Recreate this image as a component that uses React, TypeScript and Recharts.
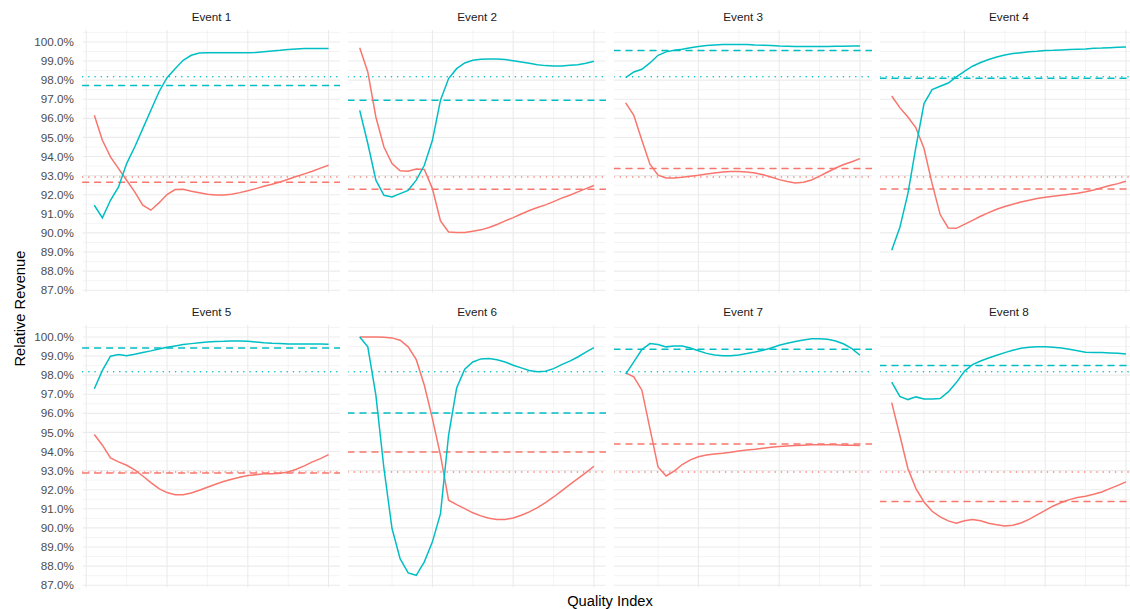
import React from "react";
import { LineChart, Line, XAxis, YAxis, CartesianGrid, ReferenceLine } from "recharts";

// ---------- data ----------
const QUALITY_INDEX = [1, 2, 3, 4, 5, 6, 7, 8, 9, 10, 11, 12, 13, 14, 15, 16, 17, 18, 19, 20, 21, 22, 23, 24, 25, 26, 27, 28, 29, 30];

const EVENT_NAMES = ["Event 1", "Event 2", "Event 3", "Event 4", "Event 5", "Event 6", "Event 7", "Event 8"];

const E1_RED = [96.16, 94.85, 93.98, 93.37, 92.76, 92.15, 91.45, 91.19, 91.57, 92.01, 92.27, 92.29, 92.18, 92.1, 92.02, 91.99, 91.99, 92.02, 92.11, 92.21, 92.32, 92.44, 92.55, 92.67, 92.81, 92.95, 93.09, 93.23, 93.39, 93.54];
const E1_CYAN = [91.45, 90.79, 91.71, 92.41, 93.63, 94.5, 95.46, 96.42, 97.38, 98.13, 98.6, 99.04, 99.3, 99.42, 99.44, 99.43, 99.43, 99.43, 99.43, 99.44, 99.45, 99.49, 99.53, 99.56, 99.6, 99.63, 99.65, 99.65, 99.65, 99.65];

const E2_RED = [99.7, 98.43, 96.07, 94.5, 93.63, 93.25, 93.23, 93.35, 93.32, 92.32, 90.63, 90.05, 90.02, 90.02, 90.09, 90.16, 90.28, 90.44, 90.63, 90.8, 90.99, 91.17, 91.33, 91.47, 91.64, 91.82, 91.97, 92.15, 92.32, 92.48];
const E2_CYAN = [96.42, 94.68, 92.76, 91.97, 91.88, 92.06, 92.23, 92.76, 93.54, 94.85, 96.95, 98.08, 98.6, 98.9, 99.04, 99.09, 99.11, 99.11, 99.08, 99.02, 98.95, 98.88, 98.81, 98.76, 98.74, 98.74, 98.78, 98.81, 98.88, 98.99];

const E3_RED = [96.81, 96.16, 94.85, 93.6, 93.02, 92.88, 92.88, 92.91, 92.97, 93.02, 93.09, 93.14, 93.19, 93.21, 93.21, 93.19, 93.14, 93.05, 92.93, 92.79, 92.69, 92.62, 92.65, 92.77, 92.97, 93.19, 93.4, 93.58, 93.73, 93.89];
const E3_CYAN = [98.13, 98.43, 98.57, 98.9, 99.3, 99.48, 99.56, 99.62, 99.69, 99.76, 99.81, 99.84, 99.86, 99.86, 99.86, 99.86, 99.84, 99.83, 99.81, 99.79, 99.78, 99.76, 99.76, 99.76, 99.76, 99.76, 99.78, 99.78, 99.79, 99.79];

const E4_RED = [97.17, 96.56, 96.07, 95.5, 94.42, 92.58, 90.96, 90.26, 90.24, 90.45, 90.66, 90.87, 91.06, 91.24, 91.38, 91.5, 91.62, 91.71, 91.8, 91.87, 91.92, 91.97, 92.02, 92.08, 92.15, 92.25, 92.36, 92.48, 92.58, 92.71];
const E4_CYAN = [89.09, 90.28, 92.06, 94.5, 96.77, 97.5, 97.68, 97.85, 98.17, 98.46, 98.73, 98.92, 99.08, 99.21, 99.32, 99.39, 99.44, 99.48, 99.51, 99.55, 99.56, 99.58, 99.6, 99.62, 99.63, 99.67, 99.68, 99.7, 99.72, 99.74];

const E5_RED = [94.89, 94.33, 93.66, 93.46, 93.28, 93.04, 92.72, 92.37, 92.06, 91.85, 91.74, 91.74, 91.83, 91.97, 92.13, 92.29, 92.43, 92.55, 92.65, 92.74, 92.79, 92.83, 92.84, 92.86, 92.93, 93.07, 93.25, 93.46, 93.63, 93.84];
const E5_CYAN = [97.29, 98.25, 98.99, 99.08, 99.01, 99.09, 99.18, 99.27, 99.37, 99.46, 99.53, 99.6, 99.65, 99.7, 99.74, 99.76, 99.77, 99.79, 99.79, 99.77, 99.74, 99.7, 99.67, 99.65, 99.63, 99.63, 99.63, 99.63, 99.63, 99.62];

const E6_RED = [100.0, 100.0, 100.0, 99.99, 99.95, 99.83, 99.48, 98.81, 97.47, 95.72, 93.8, 91.45, 91.22, 91.01, 90.79, 90.63, 90.51, 90.44, 90.44, 90.52, 90.66, 90.84, 91.06, 91.33, 91.62, 91.94, 92.27, 92.58, 92.9, 93.23];
const E6_CYAN = [100.0, 99.48, 96.95, 93.11, 89.97, 88.39, 87.64, 87.52, 88.22, 89.27, 90.75, 94.85, 97.33, 98.31, 98.69, 98.85, 98.87, 98.81, 98.69, 98.52, 98.38, 98.24, 98.18, 98.2, 98.34, 98.55, 98.73, 98.95, 99.21, 99.44];

const E7_RED = [98.12, 97.91, 97.21, 95.2, 93.19, 92.72, 92.97, 93.32, 93.56, 93.73, 93.82, 93.87, 93.91, 93.96, 94.03, 94.08, 94.12, 94.17, 94.22, 94.26, 94.29, 94.31, 94.33, 94.35, 94.35, 94.35, 94.35, 94.33, 94.33, 94.31];
const E7_CYAN = [98.05, 98.69, 99.34, 99.65, 99.6, 99.48, 99.53, 99.53, 99.42, 99.28, 99.14, 99.06, 99.01, 99.01, 99.06, 99.13, 99.21, 99.3, 99.42, 99.56, 99.67, 99.76, 99.84, 99.9, 99.91, 99.88, 99.79, 99.63, 99.39, 99.04];

const E8_RED = [96.56, 94.85, 93.11, 92.06, 91.36, 90.87, 90.58, 90.37, 90.24, 90.37, 90.44, 90.37, 90.24, 90.16, 90.1, 90.14, 90.26, 90.45, 90.68, 90.92, 91.15, 91.33, 91.48, 91.59, 91.66, 91.76, 91.88, 92.06, 92.23, 92.41];
const E8_CYAN = [97.64, 96.89, 96.72, 96.86, 96.75, 96.75, 96.77, 97.12, 97.61, 98.2, 98.55, 98.74, 98.9, 99.04, 99.18, 99.3, 99.41, 99.46, 99.48, 99.49, 99.46, 99.42, 99.35, 99.28, 99.2, 99.18, 99.18, 99.16, 99.14, 99.11];

const RED_SERIES = [E1_RED, E2_RED, E3_RED, E4_RED, E5_RED, E6_RED, E7_RED, E8_RED];
const CYAN_SERIES = [E1_CYAN, E2_CYAN, E3_CYAN, E4_CYAN, E5_CYAN, E6_CYAN, E7_CYAN, E8_CYAN];

// per-event dashed reference levels
const DASHED_RED = [92.65, 92.29, 93.37, 92.3, 92.88, 93.98, 94.4, 91.38];
const DASHED_CYAN = [97.72, 96.95, 99.55, 98.1, 99.42, 96.02, 99.36, 98.5];
// global dotted reference levels
const DOTTED_RED = 92.93;
const DOTTED_CYAN = 98.18;

const Y_TICKS = [87, 88, 89, 90, 91, 92, 93, 94, 95, 96, 97, 98, 99, 100];
const Y_MINOR = [87.5, 88.5, 89.5, 90.5, 91.5, 92.5, 93.5, 94.5, 95.5, 96.5, 97.5, 98.5, 99.5, 100.5];
const X_MAJOR = [0, 10, 20, 30];
const X_MINOR = [5, 15, 25];

// ---------- layout / style ----------
const RED = "#F8766D";
const CYAN = "#00BFC4";
const GRID = "#EBEBEB";
const FONT = "'Liberation Sans', Arial, Helvetica, sans-serif";

const Y_DOMAIN: [number, number] = [86.875, 100.625];
const X_DOMAIN: [number, number] = [-0.45, 31.45];

const PANEL_W = 257.7;
const PANEL_H = 262.6;
const PAD_B = 12;
const COL_LEFT = [82.6, 348.3, 614.3, 880];
const ROW_TOP = [29.8, 324.8];
const STRIP_BASELINE = [20.8, 316.3];
const Y_AXIS_W = 82.6;

function Panel({ idx }: { idx: number }) {
  const col = idx % 4;
  const row = Math.floor(idx / 4);
  const showY = col === 0;
  const yw = showY ? Y_AXIS_W : 0;
  const data = QUALITY_INDEX.map((q, i) => ({ q, red: RED_SERIES[idx][i], cyan: CYAN_SERIES[idx][i] }));
  return (
    <div style={{ position: "absolute", left: COL_LEFT[col] - yw, top: ROW_TOP[row] }}>
      <LineChart width={PANEL_W + yw} height={PANEL_H + PAD_B} data={data} margin={{ top: 0, right: 0, bottom: PAD_B, left: 0 }}>
        <CartesianGrid horizontalValues={Y_MINOR} verticalValues={X_MINOR} stroke={GRID} strokeWidth={0.55} fill="none" />
        <CartesianGrid horizontalValues={Y_TICKS} verticalValues={X_MAJOR} stroke={GRID} strokeWidth={1.1} fill="none" />
        <XAxis type="number" dataKey="q" domain={X_DOMAIN} allowDataOverflow hide />
        <YAxis
          type="number"
          domain={Y_DOMAIN}
          ticks={Y_TICKS}
          interval={0}
          allowDataOverflow
          hide={!showY}
          width={yw}
          axisLine={false}
          tickLine={false}
          tickSize={0}
          tickMargin={8.6}
          tickFormatter={(v: number) => v.toFixed(1) + "%"}
          tick={{ fill: "#4D4D4D", fontSize: 11.7, fontFamily: FONT }}
        />
        <ReferenceLine y={DOTTED_CYAN} stroke={CYAN} strokeWidth={1.5} strokeDasharray="0.1 6.1" strokeLinecap="round" ifOverflow="visible" />
        <ReferenceLine y={DOTTED_RED} stroke={RED} strokeWidth={1.5} strokeDasharray="0.1 6.1" strokeLinecap="round" ifOverflow="visible" />
        <ReferenceLine y={DASHED_CYAN[idx]} stroke={CYAN} strokeWidth={1.5} strokeDasharray="6 6" strokeLinecap="round" ifOverflow="visible" />
        <ReferenceLine y={DASHED_RED[idx]} stroke={RED} strokeWidth={1.5} strokeDasharray="6 6" strokeLinecap="round" ifOverflow="visible" />
        <Line type="linear" dataKey="red" stroke={RED} strokeWidth={1.5} dot={false} activeDot={false} isAnimationActive={false} />
        <Line type="linear" dataKey="cyan" stroke={CYAN} strokeWidth={1.5} dot={false} activeDot={false} isAnimationActive={false} />
      </LineChart>
    </div>
  );
}

export default function App() {
  return (
    <div style={{ position: "absolute", left: 0, top: 0, width: 1130, height: 609, overflow: "hidden", background: "#FFFFFF", fontFamily: FONT }}>
      {EVENT_NAMES.map((_, i) => (
        <Panel key={i} idx={i} />
      ))}
      <svg width={1130} height={609} style={{ position: "absolute", left: 0, top: 0, pointerEvents: "none" }}>
        {EVENT_NAMES.map((name, i) => (
          <text
            key={name}
            x={COL_LEFT[i % 4] + PANEL_W / 2}
            y={STRIP_BASELINE[Math.floor(i / 4)]}
            textAnchor="middle"
            fontSize={11.7}
            fill="#1A1A1A"
            fontFamily={FONT}
          >
            {name}
          </text>
        ))}
        <text x={610} y={606} textAnchor="middle" fontSize={14.7} fill="#000000" fontFamily={FONT}>
          Quality Index
        </text>
        <text
          x={0}
          y={0}
          transform="translate(25.3,308.6) rotate(-90)"
          textAnchor="middle"
          fontSize={14.7}
          fill="#000000"
          fontFamily={FONT}
        >
          Relative Revenue
        </text>
      </svg>
    </div>
  );
}
